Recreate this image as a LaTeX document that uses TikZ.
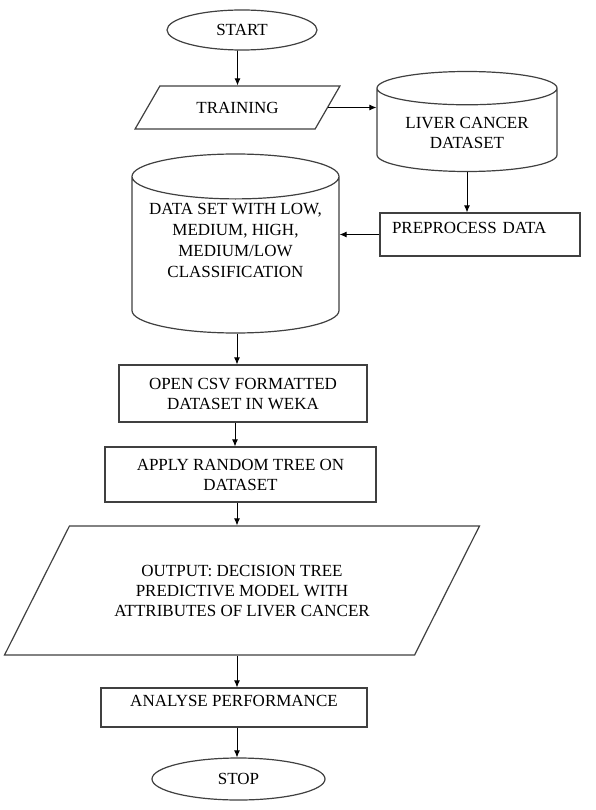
\documentclass[tikz,border=0pt]{standalone}
\usepackage{fontspec}
\setmainfont{Liberation Serif}
\usetikzlibrary{shapes.geometric}
\usetikzlibrary{arrows.meta}

\begin{document}
\begin{tikzpicture}[x=1pt,y=-1pt,
        every node/.style={font=\fontsize{17}{20}\selectfont,align=center,inner sep=0pt},
        term/.style={draw=black!75,ellipse,line width=1.2pt},
        proc/.style={draw=black!75,rectangle,line width=1.2pt},
        io/.style={draw=black!75,trapezium,trapezium stretches=true,line width=1.2pt},
        db/.style={draw=black!75,cylinder,shape border rotate=90,anchor=shape center,line width=1.2pt},
        arr/.style={-{Latex[length=7pt,width=6pt]},black,line width=0.9pt}
      ]
      \useasboundingbox[fill=white] (0,0) rectangle (596,810);
      \node[term,minimum width=150pt,minimum height=40pt] (start) at (242,30) {START};
      \node[io,trapezium left angle=41,trapezium right angle=139,minimum width=205pt,minimum height=43pt] (train) at (237.5,107.5) {TRAINING};
      \node[db,aspect=0.27,minimum width=180pt,minimum height=100pt,text height=37pt,text depth=0pt] (liver) at (467,121.5) {LIVER CANCER\\DATASET};
      \node[proc,minimum width=200pt,minimum height=43pt,text width=176pt,align=left,text height=11pt,text depth=13pt] (prep) at (480,234.5) {PREPROCESS DATA};
      \node[db,aspect=0.26,minimum width=207pt,minimum height=179pt,text height=74pt,text depth=29.5pt,font=\fontsize{17}{21}\selectfont] (bigset) at (235.5,243.5) {DATA SET WITH LOW,\\MEDIUM, HIGH,\\MEDIUM/LOW\\CLASSIFICATION};
      \node[proc,minimum width=248pt,minimum height=57pt] (csv) at (243,393.5) {OPEN CSV FORMATTED\\DATASET IN WEKA};
      \node[proc,minimum width=271pt,minimum height=55pt] (apply) at (240.5,474.5) {APPLY RANDOM TREE ON\\DATASET};
      \node[io,trapezium left angle=47,trapezium right angle=133,minimum width=476pt,minimum height=129pt] (output) at (242,590.5) {OUTPUT: DECISION TREE\\PREDICTIVE MODEL WITH\\ATTRIBUTES OF LIVER CANCER};
      \node[proc,minimum width=266pt,minimum height=39pt,text height=11pt,text depth=13pt] (analyse) at (234,707.5) {ANALYSE PERFORMANCE};
      \node[term,minimum width=173pt,minimum height=42pt] (stop) at (238.5,779) {STOP};
      \draw[arr] (start.south -| train) -- (train);
      \draw[arr] (train.east) -- (train.east -| liver.west);
      \draw[arr] (liver.south) -- (liver.south |- prep.north);
      \draw[arr] (prep.west) -- (prep.west -| bigset.east);
      \draw[arr] (bigset.south -| 237,0) -- (csv.north -| 237,0);
      \draw[arr] (csv.south -| 235,0) -- (apply.north -| 235,0);
      \draw[arr] (apply.south -| 237,0) -- (output.north -| 237,0);
      \draw[arr] (output.south -| 237,0) -- (analyse.north -| 237,0);
      \draw[arr] (analyse.south -| 237,0) -- (stop.north -| 237,0);
    \end{tikzpicture}
\end{document}
